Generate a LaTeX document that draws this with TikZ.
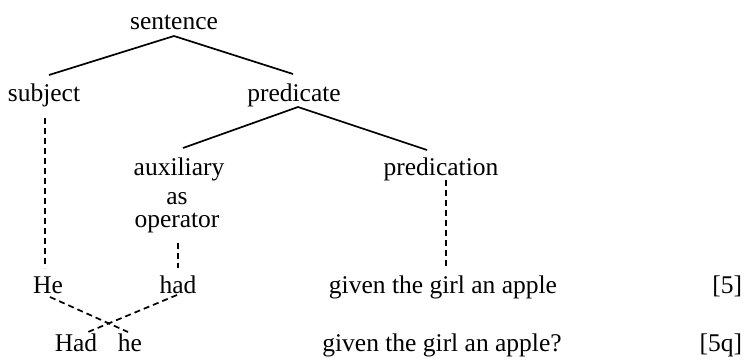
\documentclass[tikz,border=0pt]{standalone}
\usepackage{fontspec}
\setmainfont{Liberation Serif}
\tikzset{
  word/.style={anchor=base, inner sep=0pt, outer sep=0pt, text height=17pt, text depth=0pt,
               font=\fontsize{25.5}{30}\selectfont},
  stack/.style={anchor=base, inner sep=0pt, outer sep=0pt, align=center,
               font=\fontsize{25.5}{23}\selectfont},
  branch/.style={line width=1.7pt},
  link/.style={line width=1.7pt, dash pattern=on 6pt off 4pt},
}
\begin{document}
\begin{tikzpicture}[x=1pt,y=1pt]
\useasboundingbox (0,0) rectangle (745,-360);
% row 0
\node[word] (sentence) at (174,-29) {sentence};
% row 1
\node[word] (subject) at (44,-101) {subject};
\node[word] (predicate) at (294,-101) {predicate};
% row 2
\node[word] (auxiliary) at (179,-175) {auxiliary};
\node[stack] (asop) at (177,-227) {as\\operator};
\node[word] (predication) at (441,-175) {predication};
% row 3
\node[word] (He) at (48,-293) {He};
\node[word] (had) at (178,-293) {had};
\node[word] (given) at (443,-293) {given the girl an apple};
\node[word, anchor=base east] (n5) at (742,-293) {[5]};
% row 4
\node[word] (Had) at (76,-351) {Had};
\node[word] (he) at (130,-351) {he};
\node[word] (givenq) at (442,-351) {given the girl an apple?};
\node[word, anchor=base east] (n5q) at (742,-351) {[5q]};
% solid branches
\draw[branch] ([xshift=5pt,yshift=9pt]subject.north) -- ([yshift=-7pt]sentence.south) -- ([xshift=-1pt,yshift=10pt]predicate.north);
\draw[branch] ([xshift=4pt,yshift=10pt]auxiliary.north) -- ([xshift=4pt,yshift=-6pt]predicate.south) -- ([xshift=-14pt,yshift=8pt]predication.north);
% dashed links
\draw[link] ([xshift=1pt,yshift=-11pt]asop.south) -- ([yshift=8pt]had.north);
\draw[link] ([xshift=1pt,yshift=-17pt]subject.south) -- ([xshift=-3pt,yshift=8pt]He.north);
\draw[link] ([xshift=5pt,yshift=-5pt]predication.south) -- ([xshift=3pt,yshift=8pt]given.north);
\draw[link] ([xshift=2pt,yshift=-4pt]He.south) -- ([xshift=-2pt,yshift=2pt]he.north);
\draw[link] ([xshift=-1pt,yshift=-2pt]had.south) -- ([xshift=12pt,yshift=2pt]Had.north);
\end{tikzpicture}
\end{document}
